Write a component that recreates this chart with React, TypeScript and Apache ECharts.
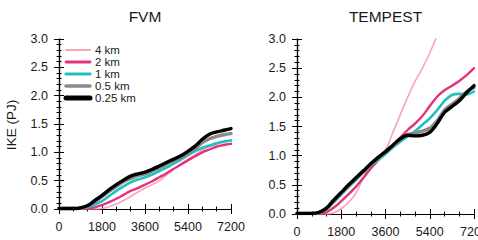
import React, { useEffect, useRef } from "react";
import * as echarts from "echarts";

// Simulation time (s) at which IKE was sampled
const TIMES = [
  0, 300, 600, 900, 1200, 1500, 1800, 2100, 2400, 2700, 3000, 3300, 3600,
  3900, 4200, 4500, 4800, 5100, 5400, 5700, 6000, 6300, 6600, 6900, 7200,
];
const RESOLUTIONS = ["4 km", "2 km", "1 km", "0.5 km", "0.25 km"];
const PANEL_TITLES = ["FVM", "TEMPEST"];

// IKE (PJ), FVM dycore
const fvm4km = [0, 0, 0, 0, 0, 0, 0.01, 0.04, 0.09, 0.15, 0.22, 0.3, 0.37, 0.43, 0.5, 0.6, 0.7, 0.8, 0.88, 0.96, 1.04, 1.1, 1.14, 1.18, 1.2];
const fvm2km = [0, 0, 0, 0, 0.01, 0.03, 0.07, 0.12, 0.18, 0.25, 0.32, 0.37, 0.43, 0.49, 0.56, 0.63, 0.71, 0.78, 0.86, 0.93, 1.0, 1.05, 1.1, 1.13, 1.15];
const fvm1km = [0, 0, 0, 0.01, 0.03, 0.08, 0.14, 0.23, 0.32, 0.4, 0.47, 0.52, 0.56, 0.61, 0.67, 0.73, 0.8, 0.87, 0.95, 1.02, 1.08, 1.12, 1.16, 1.19, 1.21];
const fvm05km = [0.01, 0.01, 0.01, 0.02, 0.05, 0.13, 0.22, 0.31, 0.4, 0.48, 0.54, 0.59, 0.62, 0.67, 0.73, 0.79, 0.85, 0.91, 0.98, 1.07, 1.17, 1.24, 1.28, 1.31, 1.33];
const fvm025km = [0.01, 0.01, 0.01, 0.02, 0.06, 0.15, 0.24, 0.34, 0.43, 0.51, 0.58, 0.62, 0.65, 0.7, 0.76, 0.82, 0.88, 0.94, 1.02, 1.11, 1.23, 1.32, 1.36, 1.39, 1.42];

// IKE (PJ), TEMPEST dycore
const tempest4km = [0, 0, 0, 0, 0, 0.02, 0.09, 0.2, 0.36, 0.62, 0.86, 1.0, 1.1, 1.4, 1.7, 2.0, 2.27, 2.5, 2.76, 3.06];
const tempest2km = [0, 0, 0, 0, 0.03, 0.11, 0.22, 0.34, 0.47, 0.62, 0.78, 0.92, 1.04, 1.15, 1.31, 1.44, 1.55, 1.68, 1.85, 2.01, 2.12, 2.2, 2.28, 2.38, 2.5];
const tempest1km = [0, 0, 0, 0.02, 0.08, 0.2, 0.33, 0.46, 0.58, 0.71, 0.83, 0.93, 1.03, 1.14, 1.24, 1.33, 1.42, 1.53, 1.64, 1.78, 1.94, 2.04, 2.06, 2.05, 2.1];
const tempest05km = [0.01, 0.01, 0.01, 0.03, 0.1, 0.23, 0.36, 0.49, 0.61, 0.73, 0.85, 0.96, 1.06, 1.17, 1.28, 1.36, 1.39, 1.42, 1.47, 1.6, 1.78, 1.88, 1.98, 2.1, 2.17];
const tempest025km = [0.01, 0.01, 0.01, 0.03, 0.1, 0.24, 0.37, 0.5, 0.62, 0.74, 0.86, 0.97, 1.07, 1.18, 1.29, 1.35, 1.34, 1.35, 1.4, 1.55, 1.74, 1.84, 1.94, 2.08, 2.2];

const PANELS = [
  [fvm4km, fvm2km, fvm1km, fvm05km, fvm025km],
  [tempest4km, tempest2km, tempest1km, tempest05km, tempest025km],
];

const COLORS = ["#f6a5bb", "#e5327c", "#1fc0c2", "#8a8a8a", "#000000"];
const LINE_WIDTHS = [1.6, 2.4, 2.6, 3.4, 3.4];
const LEGEND_WIDTHS = [2.2, 2.8, 3.2, 3.6, 5];

const FONT = "'Liberation Sans', Arial, Helvetica, sans-serif";
const GRIDS = [
  { left: 59, top: 39, width: 172, height: 170 },
  { left: 297, top: 39, width: 177, height: 175 },
];

export default function App() {
  const ref = useRef<HTMLDivElement>(null);

  useEffect(() => {
    if (!ref.current) return;
    const chart = echarts.init(ref.current, null, { renderer: "svg" });

    const frameLine = { show: true, lineStyle: { color: "#000", width: 1.2 } };
    const majorTick = { show: true, inside: true, length: 5, lineStyle: { color: "#000", width: 1 } };
    const label = { color: "#1a1a1a", fontSize: 12.5, fontFamily: FONT };

    const xAxis: any[] = [];
    const yAxis: any[] = [];
    GRIDS.forEach((_, g) => {
      const xBase = {
        type: "value", gridIndex: g, min: 0, max: 7200, interval: 1800,
        axisLine: frameLine, axisTick: majorTick,
        minorTick: { show: true, splitNumber: 3, length: 2.5, lineStyle: { color: "#000", width: 1 } },
        splitLine: { show: false },
      };
      xAxis.push({
        ...xBase, position: "bottom",
        axisLabel: { ...label, margin: 11, showMaxLabel: true, formatter: (v: number) => String(v) },
      });
      xAxis.push({ ...xBase, position: "top", axisLabel: { show: false } });
      const yBase = {
        type: "value", gridIndex: g, min: 0, max: 3, interval: 0.5,
        axisLine: frameLine, axisTick: majorTick,
        minorTick: { show: true, splitNumber: 5, length: 2.5, lineStyle: { color: "#000", width: 1 } },
        splitLine: { show: false },
      };
      yAxis.push({ ...yBase, position: "left", axisLabel: { ...label, margin: 11, formatter: (v: number) => v.toFixed(1) } });
      yAxis.push({ ...yBase, position: "right", axisLabel: { show: false } });
    });

    const series: any[] = [];
    PANELS.forEach((panel, g) => {
      panel.forEach((vals, i) => {
        series.push({
          type: "line",
          name: RESOLUTIONS[i],
          xAxisIndex: g * 2,
          yAxisIndex: g * 2,
          data: vals.map((v, k) => [TIMES[k], v]),
          symbol: "none",
          smooth: 0.35,
          clip: true,
          lineStyle: { color: COLORS[i], width: LINE_WIDTHS[i], cap: "round", join: "round" },
          emphasis: { disabled: true },
        });
      });
    });

    // Titles, y-axis name and the key inside the FVM panel
    const graphic: any[] = [
      ...PANEL_TITLES.map((t, g) => ({
        type: "text",
        x: GRIDS[g].left + GRIDS[g].width / 2,
        y: 16,
        style: { text: t, fontSize: 15.5, fontFamily: FONT, fill: "#1a1a1a", align: "center", verticalAlign: "middle" },
      })),
      {
        type: "text", x: 11, y: 125, rotation: Math.PI / 2,
        style: { text: "IKE (PJ)", fontSize: 13.5, fontFamily: FONT, fill: "#1a1a1a", align: "center", verticalAlign: "middle" },
      },
    ];
    RESOLUTIONS.forEach((name, i) => {
      const y = 50 + i * 12;
      graphic.push({
        type: "line", z: 10,
        shape: { x1: 66, y1: y, x2: 90, y2: y },
        style: { stroke: COLORS[i], lineWidth: LEGEND_WIDTHS[i], lineCap: "round" },
      });
      graphic.push({
        type: "text", z: 10, x: 95, y: y,
        style: {
          text: name, fontSize: 11.5, lineHeight: 11, fontFamily: FONT, fill: "#1a1a1a",
          align: "left", verticalAlign: "middle",
        },
      });
    });

    chart.setOption({
      animation: false,
      backgroundColor: "#fff",
      grid: GRIDS.map((g) => ({ ...g, containLabel: false, outerBoundsMode: "none" })),
      xAxis,
      yAxis,
      series,
      graphic,
    });

    return () => chart.dispose();
  }, []);

  return (
    <div
      ref={ref}
      style={{ position: "fixed", left: 0, top: 0, width: 478, height: 240 }}
    />
  );
}
